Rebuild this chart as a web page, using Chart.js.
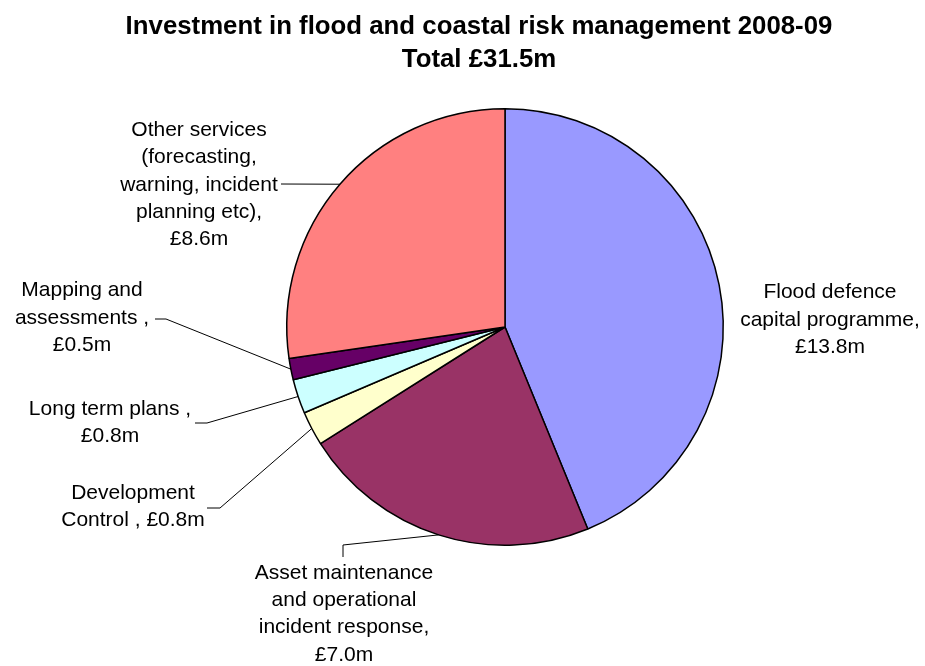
<!DOCTYPE html>
<html>
<head>
<meta charset="utf-8">
<script src="https://cdn.jsdelivr.net/npm/chart.js@4/dist/chart.umd.min.js"></script>
<style>
  html, body { margin: 0; padding: 0; background: #ffffff; }
  #wrap { width: 925px; height: 666px; }
</style>
</head>
<body>
<div id="wrap"><canvas id="pie" width="925" height="666"></canvas></div>
<script>
// Budget categories, clockwise from 12 o'clock
const categories = [
  'Flood defence capital programme',
  'Asset maintenance and operational incident response',
  'Development Control ',
  'Long term plans ',
  'Mapping and assessments ',
  'Other services (forecasting, warning, incident planning etc)'
];
// Spend in £ million
const values = [13.8, 7.0, 0.8, 0.8, 0.5, 8.6];
// Wrapped label text; {v} is replaced by the formatted value
const labelLines = [
  ['Flood defence', 'capital programme,', '{v}'],
  ['Asset maintenance', 'and operational', 'incident response,', '{v}'],
  ['Development', 'Control , {v}'],
  ['Long term plans ,', '{v}'],
  ['Mapping and', 'assessments ,', '{v}'],
  ['Other services', '(forecasting,', 'warning, incident', 'planning etc),', '{v}']
];
const sliceColors = ['#9999FF', '#993366', '#FFFFCC', '#CCFFFF', '#660066', '#FF8080'];
const titleText = 'Investment in flood and coastal risk management 2008-09';

const fmt = v => '£' + v.toFixed(1) + 'm';
const total = values.reduce((a, b) => a + b, 0);

// Label block centres and leader-line bends, as offsets from the pie centre (px)
const placement = [
  { text: [325, -7],    path: [] },
  { text: [-161, 287],  path: [[-162, 218], [-162, 230]] },
  { text: [-372, 180],  path: [[-285, 181], [-298, 181]] },
  { text: [-395, 96],   path: [[-298, 96], [-310, 96]] },
  { text: [-423, -9],   path: [[-339, -8], [-350, -8]] },
  { text: [-306, -142], path: [[-224, -143]] }
];

const FONT = '"Liberation Sans", Arial, sans-serif';

const titlePlugin = {
  id: 'twoLineTitle',
  afterDraw(chart) {
    const ctx = chart.ctx;
    ctx.save();
    ctx.fillStyle = '#000';
    ctx.font = 'bold 25.8px ' + FONT;
    ctx.textAlign = 'center';
    ctx.textBaseline = 'alphabetic';
    ctx.fillText(titleText, 479, 34);
    ctx.fillText('Total ' + fmt(total), 479, 67);
    ctx.restore();
  }
};

const sliceLabels = {
  id: 'sliceLabels',
  afterDatasetsDraw(chart) {
    const ctx = chart.ctx;
    const arcs = chart.getDatasetMeta(0).data;
    ctx.save();
    arcs.forEach((arc, i) => {
      const p = arc.getProps(['x', 'y', 'startAngle', 'endAngle', 'outerRadius'], true);
      const mid = (p.startAngle + p.endAngle) / 2;
      const pl = placement[i];
      // leader line from the rim of the slice
      if (pl.path.length) {
        ctx.beginPath();
        ctx.strokeStyle = '#000';
        ctx.lineWidth = 1;
        ctx.moveTo(p.x + Math.cos(mid) * p.outerRadius, p.y + Math.sin(mid) * p.outerRadius);
        pl.path.forEach(pt => ctx.lineTo(p.x + pt[0], p.y + pt[1]));
        ctx.stroke();
      }
      // label text
      const lines = labelLines[i].map(s => s.replace('{v}', fmt(values[i])));
      const lh = 27.3;
      ctx.fillStyle = '#000';
      ctx.font = '21px ' + FONT;
      ctx.textAlign = 'center';
      ctx.textBaseline = 'middle';
      const cx = p.x + pl.text[0];
      const cy = p.y + pl.text[1] - (lines.length - 1) * lh / 2;
      lines.forEach((ln, k) => ctx.fillText(ln, cx, cy + k * lh));
    });
    ctx.restore();
  }
};

new Chart(document.getElementById('pie'), {
  type: 'pie',
  data: {
    labels: categories,
    datasets: [{
      data: values,
      backgroundColor: sliceColors,
      borderColor: '#000',
      borderWidth: 1.5
    }]
  },
  options: {
    responsive: false,
    animation: false,
    layout: { padding: { left: 286, top: 108, right: 201, bottom: 120 } },
    plugins: {
      legend: { display: false },
      tooltip: { enabled: false },
      title: { display: false }
    }
  },
  plugins: [sliceLabels, titlePlugin]
});
</script>
</body>
</html>
